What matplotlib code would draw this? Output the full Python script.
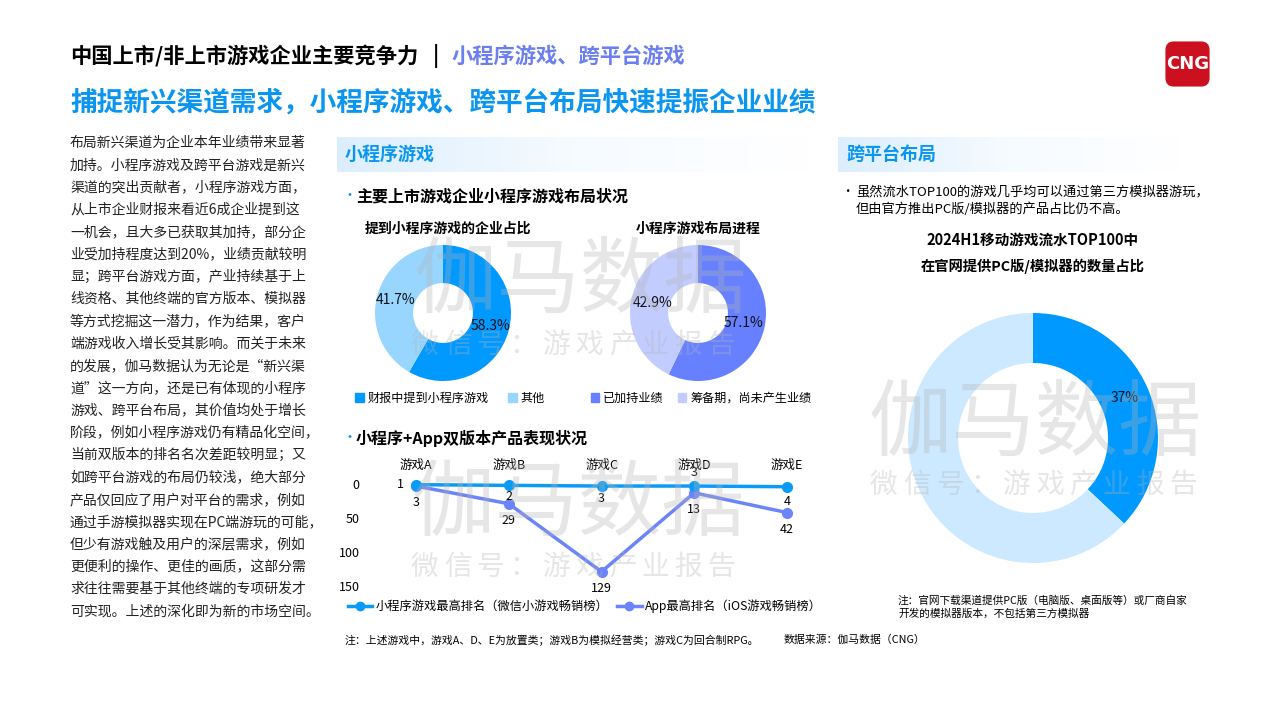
import matplotlib.pyplot as plt
import numpy as np
from matplotlib.patches import FancyBboxPatch, Patch
from matplotlib.lines import Line2D
from matplotlib.colors import LinearSegmentedColormap

plt.rcParams['font.family'] = ['Noto Sans CJK SC', 'DejaVu Sans']

W, H = 1280, 720


def fx(x):
    return x / W


def fy(y):
    return 1 - y / H


# Data
pie1_labels = ['财报中提到小程序游戏', '其他']
pie1_values = [58.3, 41.7]
pie2_labels = ['已加持业绩', '筹备期，尚未产生业绩']
pie2_values = [57.1, 42.9]
pie3_values = [37, 63]

games = ['游戏A', '游戏B', '游戏C', '游戏D', '游戏E']
mini_rank = [1, 2, 3, 3, 4]
app_rank = [3, 29, 129, 13, 42]
rank_ticks = [0, 50, 100, 150]
series_names = ['小程序游戏最高排名（微信小游戏畅销榜）', 'App最高排名（iOS游戏畅销榜）']

paragraph = [
    '布局新兴渠道为企业本年业绩带来显著',
    '加持。小程序游戏及跨平台游戏是新兴',
    '渠道的突出贡献者，小程序游戏方面，',
    '从上市企业财报来看近6成企业提到这',
    '一机会，且大多已获取其加持，部分企',
    '业受加持程度达到20%，业绩贡献较明',
    '显；跨平台游戏方面，产业持续基于上',
    '线资格、其他终端的官方版本、模拟器',
    '等方式挖掘这一潜力，作为结果，客户',
    '端游戏收入增长受其影响。而关于未来',
    '的发展，伽马数据认为无论是“新兴渠',
    '道”这一方向，还是已有体现的小程序',
    '游戏、跨平台布局，其价值均处于增长',
    '阶段，例如小程序游戏仍有精品化空间，',
    '当前双版本的排名名次差距较明显；又',
    '如跨平台游戏的布局仍较浅，绝大部分',
    '产品仅回应了用户对平台的需求，例如',
    '通过手游模拟器实现在PC端游玩的可能，',
    '但少有游戏触及用户的深层需求，例如',
    '更便利的操作、更佳的画质，这部分需',
    '求往往需要基于其他终端的专项研发才',
    '可实现。上述的深化即为新的市场空间。',
]

BLUE = '#0A96F0'
PURPLE = '#6B7FEF'
MINI_C = '#0B9BF7'
APP_C = '#6B84FA'

fig = plt.figure(figsize=(12.8, 7.2), dpi=100)

# Titles
fig.text(fx(70), fy(56), '中国上市/非上市游戏企业主要竞争力', size=15.3, weight='bold', va='center')
fig.text(fx(433), fy(56), '|', size=15, weight='bold', va='center')
fig.text(fx(452), fy(56), '小程序游戏、跨平台游戏', size=15.3, weight='bold', va='center', color=PURPLE)
fig.text(fx(70), fy(103), '捕捉新兴渠道需求，小程序游戏、跨平台布局快速提振企业业绩',
         size=19.2, weight='bold', va='center', color=BLUE)

# Logo
lax = fig.add_axes([fx(1164), fy(88), 47 / W, 48 / H])
lax.set_xlim(0, 1)
lax.set_ylim(0, 1)
lax.axis('off')
lax.add_patch(FancyBboxPatch((0.03, 0.03), 0.94, 0.94, boxstyle='round,pad=0,rounding_size=0.18',
                             color='#CC1020', lw=0))
lax.text(0.5, 0.5, 'CNG', color='white', weight='bold', size=13, ha='center', va='center',
         family='DejaVu Sans')

# Left paragraph
for i, line in enumerate(paragraph):
    fig.text(fx(70), fy(143 + i * 22.3), line, size=10, va='center', color='#222222')

# Section headers with gradient
grad = LinearSegmentedColormap.from_list('g', ['#DCEEFD', '#F6FBFF', '#FFFFFF'])


def header(x0, x1, y0, y1, label):
    hax = fig.add_axes([fx(x0), fy(y1), (x1 - x0) / W, (y1 - y0) / H])
    hax.imshow(np.linspace(0, 1, 200).reshape(1, -1), cmap=grad, aspect='auto')
    hax.axis('off')
    fig.text(fx(x0 + 8), fy((y0 + y1) / 2), label, size=13, weight='bold', color=BLUE, va='center')


header(337, 810, 137, 172, '小程序游戏')
header(838, 1180, 137, 172, '跨平台布局')

# Bullet headings
for y, t in [(196, '主要上市游戏企业小程序游戏布局状况'), (438, '小程序+App双版本产品表现状况')]:
    fig.text(fx(343), fy(y), '•', size=10, color=BLUE, va='center')
    fig.text(fx(356), fy(y), t, size=11.5, weight='bold', va='center')


def donut(cx, cy, r, values, colors, width, pctdist, fmt):
    ax = fig.add_axes([fx(cx - r), fy(cy + r), 2 * r / W, 2 * r / H])
    ax.pie(values, colors=colors, startangle=90, counterclock=False,
           wedgeprops=dict(width=width, linewidth=0), autopct=fmt,
           pctdistance=pctdist, textprops=dict(size=10, color='#111111'))
    ax.set_xlim(-1, 1)
    ax.set_ylim(-1, 1)
    return ax


pie1_colors = ['#0099FF', '#99D6FF']
pie2_colors = ['#6680FF', '#C2CCFF']
donut(443, 313, 68, pie1_values, pie1_colors, 0.56, 0.72, '%.1f%%')
donut(698, 313, 68, pie2_values, pie2_colors, 0.56, 0.68, '%.1f%%')
fig.text(fx(448), fy(229), '提到小程序游戏的企业占比', size=10, weight='bold', ha='center', va='center')
fig.text(fx(698), fy(229), '小程序游戏布局进程', size=10, weight='bold', ha='center', va='center')

fig.legend(handles=[Patch(color=c, label=l) for c, l in zip(pie1_colors, pie1_labels)],
           loc='center', bbox_to_anchor=(fx(450), fy(398)), ncol=2, frameon=False,
           fontsize=8.7, handlelength=0.7, handleheight=0.7, handletextpad=0.3, columnspacing=1.6)
fig.legend(handles=[Patch(color=c, label=l) for c, l in zip(pie2_colors, pie2_labels)],
           loc='center', bbox_to_anchor=(fx(701), fy(398)), ncol=2, frameon=False,
           fontsize=8.7, handlelength=0.7, handleheight=0.7, handletextpad=0.3, columnspacing=1.2)

# Line chart
x = np.arange(len(games))
unit = (787 - 416) / 4
ax = fig.add_axes([fx(365), fy(586), (803 - 365) / W, (586 - 484) / H])
ax.plot(x, mini_rank, color=MINI_C, lw=2.5, marker='o', ms=7, clip_on=False, zorder=3)
ax.plot(x, app_rank, color=APP_C, lw=2.5, marker='o', ms=7, clip_on=False, zorder=2)
ax.set_xlim(-(416 - 365) / unit, 4 + (803 - 787) / unit)
ax.set_ylim(150, 0)
ax.set_yticks(rank_ticks)
ax.xaxis.tick_top()
ax.set_xticks(x, games)
ax.tick_params(length=0, labelsize=9)
ax.tick_params(axis='x', pad=9)
ax.tick_params(axis='y', pad=4)
for s in ax.spines.values():
    s.set_visible(False)
ax.patch.set_alpha(0)

mini_off = [(-9, 0, 'right'), (0, -8, 'center'), (0, -9, 'center'), (0, 10, 'center'), (0, -11, 'center')]
for xi, v, (dx, dy, ha) in zip(x, mini_rank, mini_off):
    ax.annotate(str(v), (xi, v), xytext=(dx, dy), textcoords='offset points',
                ha=ha, va='center', size=9)
for xi, v in zip(x, app_rank):
    ax.annotate(str(v), (xi, v), xytext=(0, -12), textcoords='offset points',
                ha='center', va='center', size=9)

fig.legend(handles=[Line2D([], [], color=MINI_C, lw=2.5, marker='o', ms=6, label=series_names[0]),
                    Line2D([], [], color=APP_C, lw=2.5, marker='o', ms=6, label=series_names[1])],
           loc='center', bbox_to_anchor=(fx(585), fy(606)), ncol=2, frameon=False,
           fontsize=8.8, handlelength=2.0, handletextpad=0.3, columnspacing=0.7)

fig.text(fx(345), fy(640), '注：上述游戏中，游戏A、D、E为放置类；游戏B为模拟经营类；游戏C为回合制RPG。',
         size=7.8, va='center')
fig.text(fx(784), fy(640), '数据来源：伽马数据（CNG）', size=7.8, va='center')

# Right panel
fig.text(fx(841), fy(192), '•', size=9, va='center')
fig.text(fx(856), fy(192), '虽然流水TOP100的游戏几乎均可以通过第三方模拟器游玩，', size=9.5, va='center')
fig.text(fx(856), fy(209), '但由官方推出PC版/模拟器的产品占比仍不高。', size=9.5, va='center')
fig.text(fx(1033), fy(240), '2024H1移动游戏流水TOP100中', size=10.5, weight='bold', ha='center', va='center')
fig.text(fx(1033), fy(266), '在官网提供PC版/模拟器的数量占比', size=10.3, weight='bold', ha='center', va='center')

donut(1033, 438, 125, pie3_values, ['#0099FF', '#CCE9FF'], 0.4, 0.8,
      lambda p: f'{p:.0f}%' if p < 50 else '')

fig.text(fx(898), fy(600), '注：官网下载渠道提供PC版（电脑版、桌面版等）或厂商自家', size=7.7, va='center')
fig.text(fx(898), fy(614), '开发的模拟器版本，不包括第三方模拟器', size=7.7, va='center')


# Watermarks
def watermark(cx, cy, sy, x0, x1):
    fig.text(fx(cx), fy(cy), '伽马数据', size=60, color='#b4b4b4', alpha=0.33,
             ha='center', va='center', zorder=10)
    sub = '微信号：游戏产业报告'
    pitch = (x1 - x0) / len(sub)
    for i, ch in enumerate(sub):
        fig.text(fx(x0 + pitch * (i + 0.5)), fy(sy), ch, size=20, color='#b4b4b4', alpha=0.33,
                 ha='center', va='center', zorder=10)


watermark(580, 282, 345, 408, 738)
watermark(578, 505, 567, 408, 738)
watermark(1035, 424, 485, 867, 1200)

fig.savefig('out.png', dpi=100)
